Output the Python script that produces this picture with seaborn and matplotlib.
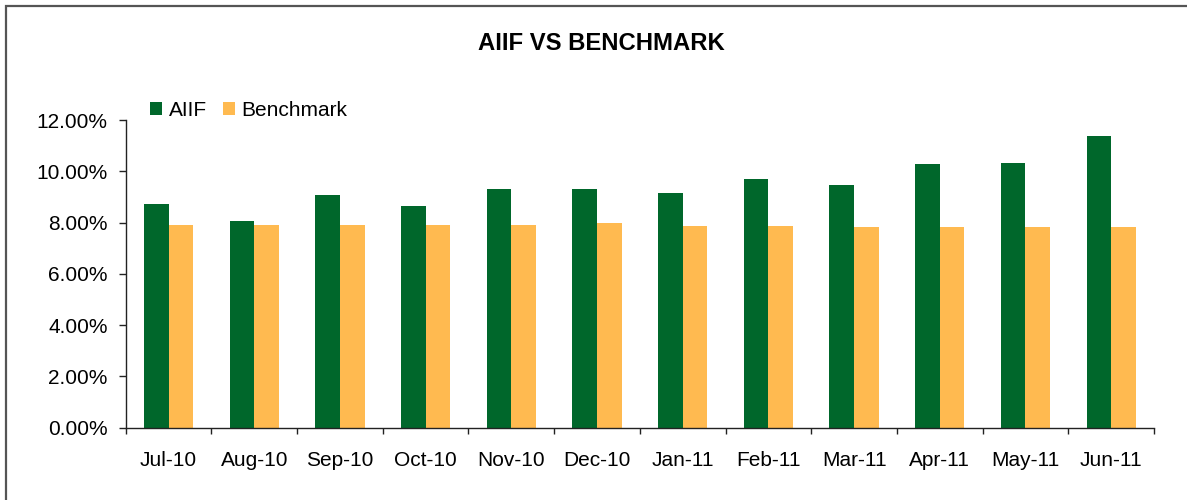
import matplotlib
matplotlib.use("Agg")
import matplotlib.pyplot as plt
import matplotlib.patches as mpatches
from matplotlib.ticker import PercentFormatter, FixedLocator
import seaborn as sns
import pandas as pd

months = ["Jul-10", "Aug-10", "Sep-10", "Oct-10", "Nov-10", "Dec-10",
          "Jan-11", "Feb-11", "Mar-11", "Apr-11", "May-11", "Jun-11"]
aiif = [8.74, 8.08, 9.06, 8.65, 9.32, 9.29, 9.17, 9.69, 9.48, 10.27, 10.32, 11.36]
benchmark = [7.92, 7.92, 7.92, 7.92, 7.92, 7.97, 7.87, 7.87, 7.82, 7.82, 7.82, 7.82]

df = pd.DataFrame({
    "month": months * 2,
    "series": ["AIIF"] * len(months) + ["Benchmark"] * len(months),
    "value": aiif + benchmark,
})

sns.set_style("white")
plt.rcParams["font.family"] = ["Liberation Sans", "DejaVu Sans"]
plt.rcParams["text.color"] = "black"
plt.rcParams["xtick.color"] = "black"
plt.rcParams["ytick.color"] = "black"
plt.rcParams["xtick.labelcolor"] = "black"
plt.rcParams["ytick.labelcolor"] = "black"

W, H = 1187, 500
fig = plt.figure(figsize=(W / 100, H / 100), dpi=100)
ax = fig.add_axes([125.7 / W, 1 - 427.7 / H, (1154 - 125.7) / W, (427.7 - 120) / H])

sns.barplot(
    data=df, x="month", y="value", hue="series",
    hue_order=["AIIF", "Benchmark"],
    palette={"AIIF": "#00672B", "Benchmark": "#FFBA50"},
    saturation=1, width=0.574, linewidth=0, ax=ax,
)

ax.set_xlim(-0.5, 11.5)
ax.set_ylim(0, 12)
ax.set_yticks([0, 2, 4, 6, 8, 10, 12])
ax.yaxis.set_major_formatter(PercentFormatter(xmax=100, decimals=2))
ax.set_xlabel("")
ax.set_ylabel("")

for s in ["top", "right"]:
    ax.spines[s].set_visible(False)
for s in ["left", "bottom"]:
    ax.spines[s].set_color("#222222")
    ax.spines[s].set_linewidth(1.0)

ax.tick_params(axis="y", which="major", direction="out", left=True, length=5,
               width=1, color="#222222", pad=8, labelsize=15, labelcolor="black")
ax.tick_params(axis="x", which="major", length=0, pad=17, labelsize=15,
               labelcolor="black")
ax.xaxis.set_minor_locator(FixedLocator([i - 0.5 for i in range(13)]))
ax.tick_params(axis="x", which="minor", direction="out", bottom=True, length=4.5,
               width=1, color="#222222")

leg = ax.legend(loc="center left", bbox_to_anchor=(150 / W, 1 - 110 / H),
                bbox_transform=fig.transFigure, ncol=2, frameon=False, fontsize=15,
                handlelength=0.58, handleheight=0.58, handletextpad=0.32,
                columnspacing=0.77, borderpad=0, borderaxespad=0)
for t in leg.get_texts():
    t.set_color("black")

fig.text(601.5 / W, 1 - 43.7 / H, "AIIF VS BENCHMARK", ha="center", va="center",
         fontsize=17.2, fontweight="bold", color="black")

fig.patches.append(mpatches.Rectangle((6 / W, -0.1), 1.2, 1.1 - 6 / H,
                                      transform=fig.transFigure, fill=False,
                                      edgecolor="#555555", linewidth=1.6))

fig.savefig("out.png", dpi=100)
